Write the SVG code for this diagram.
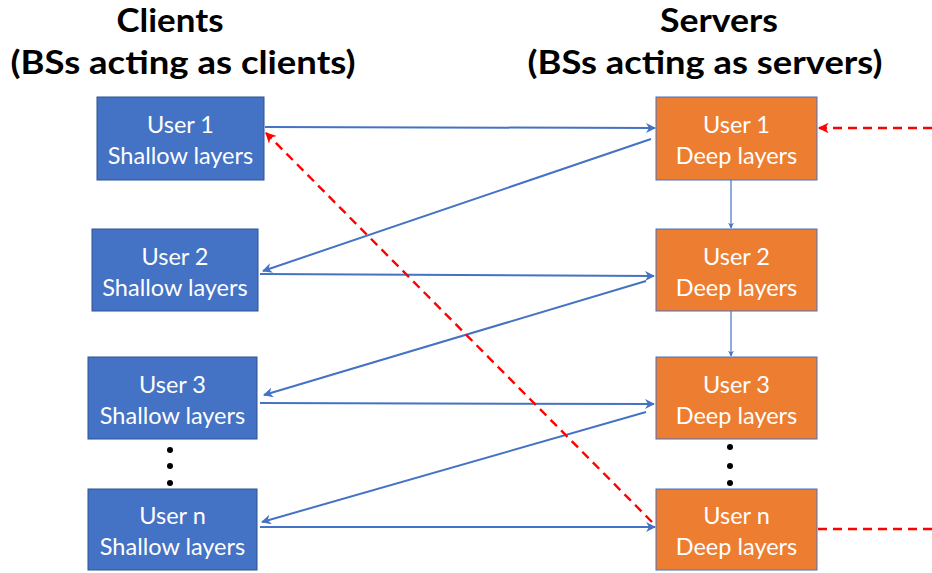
<svg xmlns="http://www.w3.org/2000/svg" width="932" height="573" viewBox="0 0 932 573">
<defs>
<style>
.title{font-family:Lato,"Liberation Sans",sans-serif;font-weight:bold;font-size:32.5px;fill:#000;text-anchor:middle}
.lbl{font-family:Lato,"Liberation Sans",sans-serif;font-size:23.5px;fill:#fff;text-anchor:middle}
.client{fill:#4472C4;stroke:#2F528F;stroke-width:1}
.server{fill:#ED7D31;stroke:#4472C4;stroke-width:1}
.conn{stroke:#4472C4;stroke-width:2;fill:none;marker-end:url(#ab)}
.red{stroke:#FF0000;stroke-width:2.4;fill:none;stroke-dasharray:9,6}
</style>
<marker id="ab" viewBox="0 0 10 10" refX="9" refY="5" markerWidth="5" markerHeight="5" orient="auto" markerUnits="strokeWidth">
<path d="M0,0 L10,5 L0,10 L3,5 Z" fill="#4472C4"/>
</marker>
<marker id="ar" viewBox="0 0 10 10" refX="9" refY="5" markerWidth="4.5" markerHeight="4.5" orient="auto" markerUnits="strokeWidth">
<path d="M0,0 L10,5 L0,10 L3,5 Z" fill="#FF0000"/>
</marker>
</defs>
<rect width="932" height="573" fill="#fff"/>
<g id="titles">
<text class="title" x="170" y="32" textLength="107" lengthAdjust="spacingAndGlyphs">Clients</text>
<text class="title" x="183" y="74" textLength="345" lengthAdjust="spacingAndGlyphs">(BSs acting as clients)</text>
<text class="title" x="719" y="32" textLength="118" lengthAdjust="spacingAndGlyphs">Servers</text>
<text class="title" x="705" y="74" textLength="355" lengthAdjust="spacingAndGlyphs">(BSs acting as servers)</text>
</g>

<g id="c1"><rect class="client" x="97" y="97" width="167" height="83"/><text class="lbl" x="180.5" y="133">User 1</text><text class="lbl" x="180.5" y="164">Shallow layers</text></g>
<g id="c2"><rect class="client" x="92" y="229" width="166" height="82"/><text class="lbl" x="175" y="265">User 2</text><text class="lbl" x="175" y="296">Shallow layers</text></g>
<g id="c3"><rect class="client" x="88" y="357" width="169" height="82"/><text class="lbl" x="172.5" y="393">User 3</text><text class="lbl" x="172.5" y="424">Shallow layers</text></g>
<g id="cn"><rect class="client" x="88" y="489" width="169" height="81"/><text class="lbl" x="172.5" y="524">User n</text><text class="lbl" x="172.5" y="555">Shallow layers</text></g>

<g id="s1"><rect class="server" x="656" y="97" width="161" height="83"/><text class="lbl" x="736.5" y="133">User 1</text><text class="lbl" x="736.5" y="164">Deep layers</text></g>
<g id="s2"><rect class="server" x="656" y="229" width="161" height="82"/><text class="lbl" x="736.5" y="265">User 2</text><text class="lbl" x="736.5" y="296">Deep layers</text></g>
<g id="s3"><rect class="server" x="656" y="357" width="161" height="82"/><text class="lbl" x="736.5" y="393">User 3</text><text class="lbl" x="736.5" y="424">Deep layers</text></g>
<g id="sn"><rect class="server" x="656" y="489" width="161" height="81"/><text class="lbl" x="736.5" y="524">User n</text><text class="lbl" x="736.5" y="555">Deep layers</text></g>

<g id="dots" fill="#000">
<circle cx="170" cy="450" r="3"/><circle cx="170" cy="466" r="3"/><circle cx="170" cy="483" r="3"/>
<circle cx="730" cy="447" r="3"/><circle cx="730" cy="466" r="3"/><circle cx="730" cy="483" r="3"/>
</g>

<g id="connectors">
<line class="conn" x1="265" y1="127" x2="655" y2="128"/>
<line class="conn" x1="651" y1="139" x2="263" y2="271"/>
<line class="conn" x1="260" y1="274" x2="654" y2="276"/>
<line class="conn" x1="646" y1="281" x2="264" y2="395"/>
<line class="conn" x1="260" y1="403" x2="654" y2="404"/>
<line class="conn" x1="646" y1="412" x2="262" y2="522"/>
<line class="conn" x1="260" y1="527" x2="655" y2="527"/>
<line class="conn" x1="731" y1="180" x2="731" y2="228" style="stroke-width:1.2"/>
<line class="conn" x1="731" y1="311" x2="731" y2="356" style="stroke-width:1.2"/>
<line class="red" x1="652" y1="522" x2="266" y2="133" marker-end="url(#ar)"/>
<line class="red" x1="932" y1="128" x2="819" y2="128" marker-end="url(#ar)"/>
<line class="red" x1="818" y1="529" x2="932" y2="529"/>
</g>
</svg>
